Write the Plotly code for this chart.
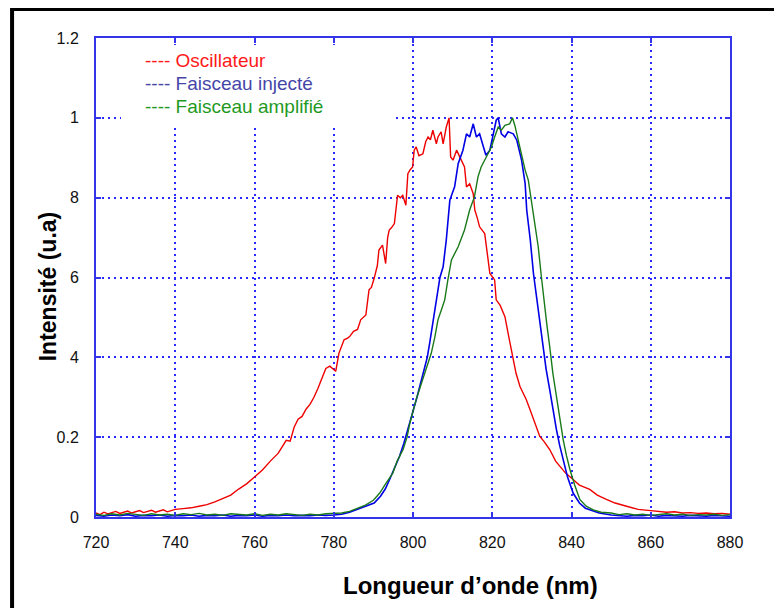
import plotly.graph_objects as go

# ---------------- data ----------------
osc_wl = [720, 721, 722, 723, 724, 725, 726, 727, 728, 729, 730, 731, 732, 733, 734, 735, 736, 737, 738, 739, 740,
          742, 744, 746, 748, 750, 752, 754, 756, 758, 760, 762, 764, 766, 768, 769, 770, 771, 772, 773, 774, 775,
          776, 777, 778, 779, 780, 780.5, 781.3, 782, 782.6, 783.5, 784, 785, 786, 786.8, 787.5, 788.1, 788.9,
          789.5, 790.2, 791, 791.4, 792.3, 793.1, 793.6, 794, 794.6, 795.3, 796.1, 796.8, 797.4, 798.2, 798.7,
          799.3, 799.9, 800.3, 800.8, 801.5, 802.5, 803.2, 803.8, 804.4, 805, 805.9, 806.3, 807.1, 807.6, 808.4,
          809.1, 809.5, 810.1, 811, 811.8, 812.4, 813, 813.5, 814.3, 815.2, 815.6, 816.2, 816.8, 818.1, 818.9,
          819.4, 820.6, 821, 822, 823.2, 824.2, 825.3, 826, 827, 828.6, 829.5, 830.7, 832, 833, 834.5, 836, 837,
          838.5, 840.4, 842, 844.6, 846.5, 848.8, 851, 853.9, 856.8, 860, 862, 864, 866, 868, 870, 872, 874, 876,
          878, 880]
osc_int = [0.010, 0.006, 0.012, 0.008, 0.011, 0.014, 0.009, 0.012, 0.015, 0.010, 0.013, 0.016, 0.011, 0.014, 0.017,
           0.012, 0.015, 0.018, 0.013, 0.016, 0.019,
           0.021, 0.023, 0.027, 0.031, 0.038, 0.046, 0.055, 0.070, 0.083, 0.100, 0.118, 0.140, 0.160, 0.192, 0.190,
           0.225, 0.245, 0.252, 0.270, 0.282, 0.300, 0.322, 0.345, 0.372, 0.378, 0.370, 0.365, 0.410, 0.430, 0.444,
           0.448, 0.452, 0.465, 0.470, 0.494, 0.500, 0.506, 0.569, 0.575, 0.598, 0.630, 0.669, 0.681, 0.635, 0.700,
           0.719, 0.725, 0.735, 0.806, 0.800, 0.806, 0.781, 0.860, 0.870, 0.877, 0.919, 0.927, 0.905, 0.910, 0.940,
           0.952, 0.945, 0.969, 0.935, 0.952, 0.965, 0.935, 0.977, 1.000, 0.902, 0.894, 0.919, 0.902, 0.890, 0.877,
           0.827, 0.835, 0.810, 0.769, 0.750, 0.727, 0.710, 0.652, 0.610, 0.594, 0.544, 0.530, 0.502, 0.450, 0.398,
           0.360, 0.327, 0.294, 0.270, 0.235, 0.202, 0.190, 0.169, 0.140, 0.127, 0.110, 0.094, 0.080, 0.069, 0.055,
           0.044, 0.035, 0.027, 0.019, 0.016, 0.014, 0.012, 0.013, 0.010, 0.011, 0.009, 0.010, 0.008, 0.009, 0.007]

inj_wl = [720, 722, 724, 726, 728, 730, 732, 734, 736, 738, 740, 742, 744, 746, 748, 750, 752, 754, 756, 758, 760,
          762, 764, 766, 768, 770, 772, 774, 776, 778, 780, 782, 784, 786, 788, 790.2, 791.8, 793, 794.1, 795.5,
          796.6, 797.7, 798.7, 800, 801, 801.7, 802.9, 803.6, 804.2, 805, 805.9, 806.8, 807.6, 808.4, 809.3, 810.5,
          811.4, 812.6, 813.5, 814.3, 815.2, 816, 816.8, 817.7, 818.4, 819.4, 820.2, 821, 821.5, 822.3, 823.2, 824,
          825.3, 826.2, 827.4, 828.3, 828.7, 829.6, 830.4, 831.3, 832, 832.8, 833.6, 834.5, 835.3, 836.2, 837,
          837.9, 839, 840.4, 842, 843.5, 845.4, 847, 850, 852, 854, 856, 858, 860, 862, 864, 866, 868, 870, 872,
          874, 876, 878, 880]
inj_int = [0.004, 0.002, 0.005, 0.003, 0.006, 0.002, 0.004, 0.003, 0.005, 0.002, 0.004, 0.003, 0.005, 0.002, 0.004,
           0.003, 0.005, 0.002, 0.004, 0.003, 0.005, 0.002, 0.004, 0.003, 0.005, 0.003, 0.004, 0.003, 0.005, 0.004,
           0.005, 0.007, 0.012, 0.019, 0.026, 0.035, 0.052, 0.070, 0.094, 0.125, 0.152, 0.185, 0.219, 0.260, 0.300,
           0.327, 0.369, 0.400, 0.435, 0.485, 0.544, 0.600, 0.627, 0.694, 0.794, 0.827, 0.885, 0.919, 0.960, 0.952,
           0.985, 0.952, 0.960, 0.927, 0.906, 0.919, 0.960, 0.994, 1.000, 0.960, 0.952, 0.965, 0.960, 0.944, 0.894,
           0.835, 0.769, 0.694, 0.610, 0.544, 0.490, 0.427, 0.370, 0.319, 0.270, 0.219, 0.180, 0.144, 0.100, 0.060,
           0.035, 0.022, 0.015, 0.010, 0.005, 0.004, 0.002, 0.004, 0.003, 0.005, 0.002, 0.004, 0.003, 0.002, 0.004,
           0.003, 0.002, 0.004, 0.003, 0.002, 0.003]

amp_wl = [720, 722, 724, 726, 728, 730, 732, 734, 736, 738, 740, 742, 744, 746, 748, 750, 752, 754, 756, 758, 760,
          762, 764, 766, 768, 770, 772, 774, 776, 778, 780, 782, 784, 786, 788, 790, 791.6, 793, 794.9, 796, 797.5,
          798.5, 799.2, 800.8, 802, 803.4, 804.6, 805.5, 806.3, 807.2, 808, 808.8, 809.7, 811.4, 813, 814.3, 815.5,
          816.4, 817.2, 818.5, 819.8, 820.6, 821.5, 822.3, 823.2, 824.4, 825.1, 825.7, 826.5, 827.4, 828.3, 829.1,
          829.9, 830.8, 831.6, 832.4, 833, 833.8, 834.5, 835.3, 836.2, 837, 837.9, 838.7, 839.6, 840.8, 842.1,
          843.7, 845.5, 847.5, 850, 852, 854, 856, 858, 860, 862, 864, 866, 868, 870, 872, 874, 876, 878, 880]
amp_int = [0.007, 0.004, 0.008, 0.005, 0.009, 0.006, 0.004, 0.008, 0.005, 0.007, 0.004, 0.008, 0.006, 0.009, 0.005,
           0.007, 0.004, 0.008, 0.006, 0.005, 0.008, 0.004, 0.007, 0.005, 0.008, 0.006, 0.004, 0.007, 0.005, 0.008,
           0.009, 0.010, 0.014, 0.022, 0.030, 0.042, 0.060, 0.082, 0.110, 0.140, 0.169, 0.200, 0.235, 0.294, 0.330,
           0.369, 0.410, 0.450, 0.494, 0.520, 0.544, 0.594, 0.644, 0.677, 0.719, 0.769, 0.802, 0.852, 0.877, 0.902,
           0.927, 0.952, 0.977, 0.969, 0.981, 0.985, 1.000, 0.981, 0.944, 0.902, 0.869, 0.844, 0.794, 0.735, 0.677,
           0.602, 0.544, 0.480, 0.427, 0.360, 0.302, 0.250, 0.194, 0.155, 0.119, 0.080, 0.044, 0.027, 0.018, 0.012,
           0.010, 0.006, 0.008, 0.005, 0.007, 0.004, 0.006, 0.008, 0.005, 0.007, 0.004, 0.006, 0.005, 0.007, 0.004,
           0.006]

x_ticks = [720, 740, 760, 780, 800, 820, 840, 860, 880]
y_ticks = [0, 0.2, 0.4, 0.6, 0.8, 1.0, 1.2]
y_tick_text = ["0", "0.2", "4", "6", "8", "1", "1.2"]

legend_labels = ["---- Oscillateur", "---- Faisceau injecté", "---- Faisceau amplifié"]
legend_colors = ["#ff1a1a", "#4646a8", "#1f9a1f"]

# ---------------- figure ----------------
# the page body has an 8px margin, so the figure is 774x600 and starts at (8, 8)
OFF = 8
W, H = 782 - OFF, 608 - OFF
PL, PR, PT, PB = 95.5, 730.0, 38.0, 517.5          # plot area in page pixels
PW, PH = PR - PL, PB - PT

def px(xp):
    return (xp - PL) / PW

def py(yp):
    return (PB - yp) / PH

AXIS_BLUE = "#3434e8"
GRID_BLUE = "#2a2aff"
fig = go.Figure()
fig.add_trace(go.Scatter(x=osc_wl, y=osc_int, mode="lines", line=dict(color="#ee0000", width=1.4)))
fig.add_trace(go.Scatter(x=inj_wl, y=inj_int, mode="lines", line=dict(color="#0000e6", width=1.6)))
fig.add_trace(go.Scatter(x=amp_wl, y=amp_int, mode="lines", line=dict(color="#1a7a1a", width=1.4)))

axis_common = dict(showline=True, linecolor=AXIS_BLUE, linewidth=2, mirror="ticks",
                   ticks="inside", ticklen=5, tickcolor=AXIS_BLUE, tickwidth=2,
                   showgrid=True, gridcolor=GRID_BLUE, gridwidth=1.5, griddash="2px,4px",
                   zeroline=False,
                   tickfont=dict(family="Liberation Sans, Arial", size=16, color="#111111"))

fig.update_xaxes(range=[720, 880], tickvals=x_ticks, ticktext=[str(v) for v in x_ticks],
                 ticklabelstandoff=10, **axis_common)
fig.update_yaxes(range=[0, 1.2], tickvals=y_ticks, ticktext=y_tick_text,
                 ticklabelstandoff=12, **axis_common)

# white box behind the legend text (hides the grid there, as in the original)
BOX_L, BOX_R, BOX_T, BOX_B = 121, 396, 45, 126
annotations = [dict(xref="paper", yref="paper", x=px(BOX_L), y=py(BOX_T), xanchor="left", yanchor="top",
                    showarrow=False, text=" ", width=BOX_R - BOX_L, height=BOX_B - BOX_T,
                    bgcolor="#ffffff", borderpad=0, borderwidth=0, font=dict(size=2))]
for i, (lab, col) in enumerate(zip(legend_labels, legend_colors)):
    annotations.append(dict(xref="paper", yref="paper", x=px(143), y=py(61 + 23 * i),
                            xanchor="left", yanchor="middle", showarrow=False,
                            text=lab, font=dict(family="Liberation Sans, Arial", size=19, color=col)))
annotations.append(dict(xref="paper", yref="paper", x=px(470), y=py(586),
                        xanchor="center", yanchor="middle", showarrow=False,
                        text="<b>Longueur d’onde (nm)</b>",
                        font=dict(family="Liberation Sans, Arial", size=24, color="#000000")))
annotations.append(dict(xref="paper", yref="paper", x=px(47), y=py(287),
                        xanchor="center", yanchor="middle", showarrow=False, textangle=-90,
                        text="<b>Intensité (u.a)</b>",
                        font=dict(family="Liberation Sans, Arial", size=23, color="#000000")))

shapes = [
    dict(type="line", xref="paper", yref="paper", x0=px(10), x1=1.2, y0=py(9.5), y1=py(9.5),
         line=dict(color="#000000", width=3)),
    dict(type="line", xref="paper", yref="paper", x0=px(11.5), x1=px(11.5), y0=-0.3, y1=py(8),
         line=dict(color="#000000", width=4)),
]

fig.update_layout(width=W, height=H,
                  margin=dict(l=PL - OFF, r=W - (PR - OFF), t=PT - OFF, b=H - (PB - OFF), autoexpand=False),
                  paper_bgcolor="#ffffff", plot_bgcolor="#ffffff", showlegend=False,
                  annotations=annotations, shapes=shapes)

fig.write_html("out.html")
